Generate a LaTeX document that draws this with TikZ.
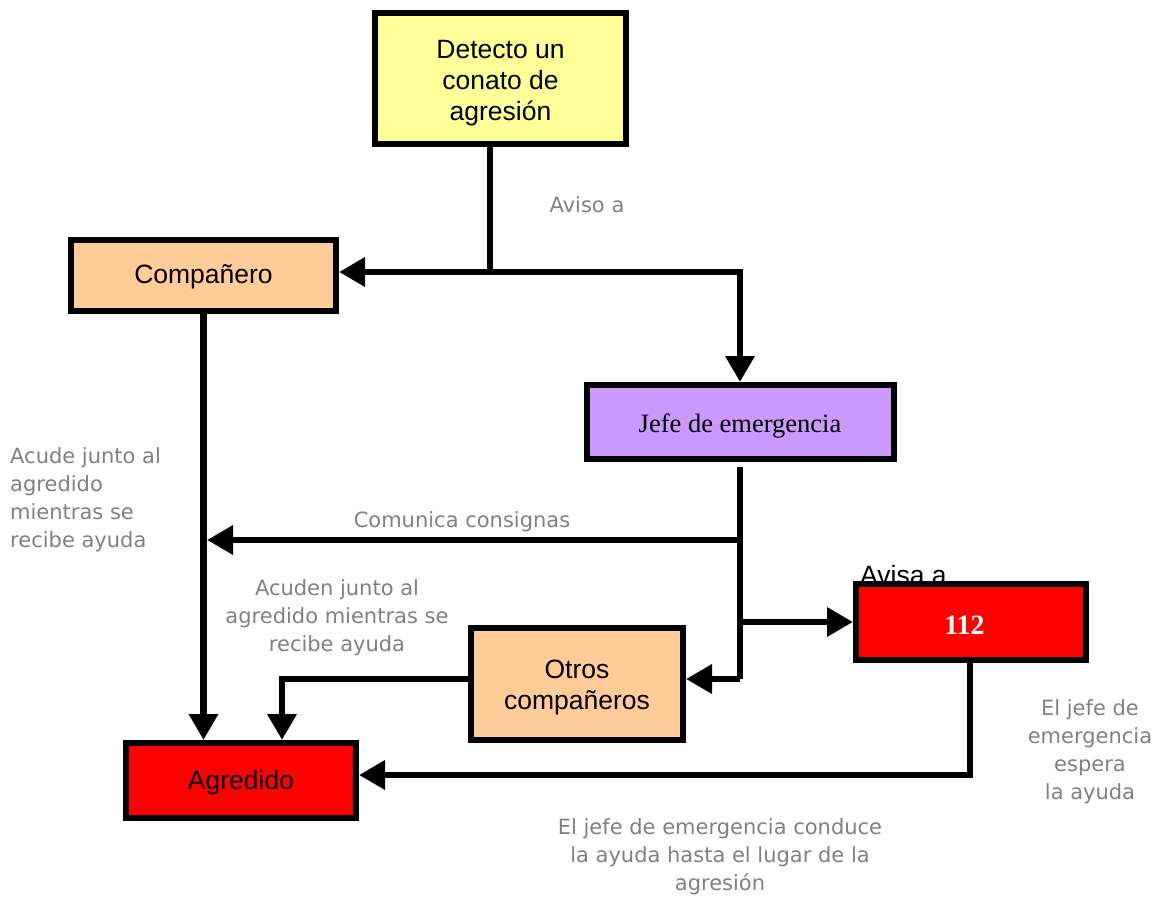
\documentclass[tikz,border=0pt]{standalone}
\usepackage{fontspec}
\setmainfont{Liberation Sans}
\newfontfamily\tms{Liberation Serif}
\newfontfamily\vd{DejaVu Sans}
\usetikzlibrary{arrows.meta}
\definecolor{yel}{HTML}{FFFF99}
\definecolor{ora}{HTML}{FFCC99}
\definecolor{pur}{HTML}{CC99FF}
\definecolor{rd}{HTML}{FF0000}
\definecolor{gtxt}{HTML}{808080}
\newcommand\bxt[2][-4pt]{\raisebox{#1}[\height][\depth]{\begin{tabular}{@{}c@{}}#2\end{tabular}}}
\tikzset{
  box/.style={draw=black, line width=6pt, inner sep=0pt,
    font=\fontsize{26.5}{31}\selectfont},
  conn/.style={line width=6.5pt, draw=black},
  arr/.style={conn, -{Triangle[length=26pt,width=28pt]}},
  glabel/.style={text=gtxt, inner sep=0pt, font=\vd\fontsize{21}{28}\selectfont}
}
\begin{document}
\begin{tikzpicture}[x=1pt,y=-1pt]
\useasboundingbox (0,0) rectangle (1160,902);
% label partly hidden behind the 112 box
\node[inner sep=0pt, anchor=base west, font=\fontsize{26.5}{31}\selectfont] (avisa) at (860,584) {Avisa a};
% boxes
\node[box, fill=yel, minimum width=251pt, minimum height=131pt] (det) at (500.5,78.5) {\bxt[-4.5pt]{Detecto un\\conato de\\agresión}};
\node[box, fill=ora, minimum width=265pt, minimum height=71pt] (comp) at (203.5,275.5) {\bxt[-2pt]{Compañero}};
\node[box, fill=pur, minimum width=307pt, minimum height=74pt, font=\tms\fontsize{26.5}{31}\selectfont] (jefe) at (740,422) {\bxt[-4pt]{Jefe de emergencia}};
\node[box, fill=rd, minimum width=230pt, minimum height=76pt, text=white, font=\tms\bfseries\fontsize{28}{31}\selectfont] (e112) at (971,622) {\hspace*{-13pt}\bxt[-6pt]{112}};
\node[box, fill=ora, minimum width=212pt, minimum height=112pt] (otr) at (577,684) {\bxt[-3.5pt]{Otros\\compañeros}};
\node[box, fill=rd, minimum width=230pt, minimum height=75pt] (agr) at (241,780.5) {\bxt[-3pt]{Agredido}};
% junction coordinates
\coordinate (j1) at (490,272);
\coordinate (j2) at (740,272);
\coordinate (c1) at (740,540);
\coordinate (c1b) at (207,540);
\coordinate (c2) at (740,622);
\coordinate (c3) at (740,679);
\coordinate (k) at (282,679);
\coordinate (c4) at (970,775);
% connectors
\draw[conn] (det.south -| j1) -- (j1);
\draw[arr] (j2) -- (j2 -| comp.east);
\draw[arr] (j1) -- (j2) -- (jefe.north);
\draw[arr] (comp.south) -- (comp.south |- agr.north);
\draw[conn, shorten <=5pt] (jefe.south) -- (c3);
\draw[arr] (c1) -- (c1b);
\draw[arr] (c2) -- (c2 -| e112.west);
\draw[arr] (c3) -- (c3 -| otr.east);
\draw[arr] (otr.west |- k) -- (k) -- (k |- agr.north);
\draw[arr] (e112.south -| c4) -- (c4) -- (c4 -| agr.east);
% gray labels
\node[glabel] (l1) at (587,205) {Aviso a};
\node[glabel, align=left, anchor=north west] (l2) at (10,447) {Acude junto al\\agredido\\mientras se\\recibe ayuda};
\node[glabel] (l3) at (462,522) {Comunica consignas};
\node[glabel, align=center] (l4) at (337,618) {Acuden junto al\\agredido mientras se\\recibe ayuda};
\node[glabel, align=center] (l5) at (1090,752) {El jefe de\\emergencia\\espera\\la ayuda};
\node[glabel, align=center] (l6) at (720,857) {El jefe de emergencia conduce\\la ayuda hasta el lugar de la\\agresión};
\end{tikzpicture}
\end{document}
